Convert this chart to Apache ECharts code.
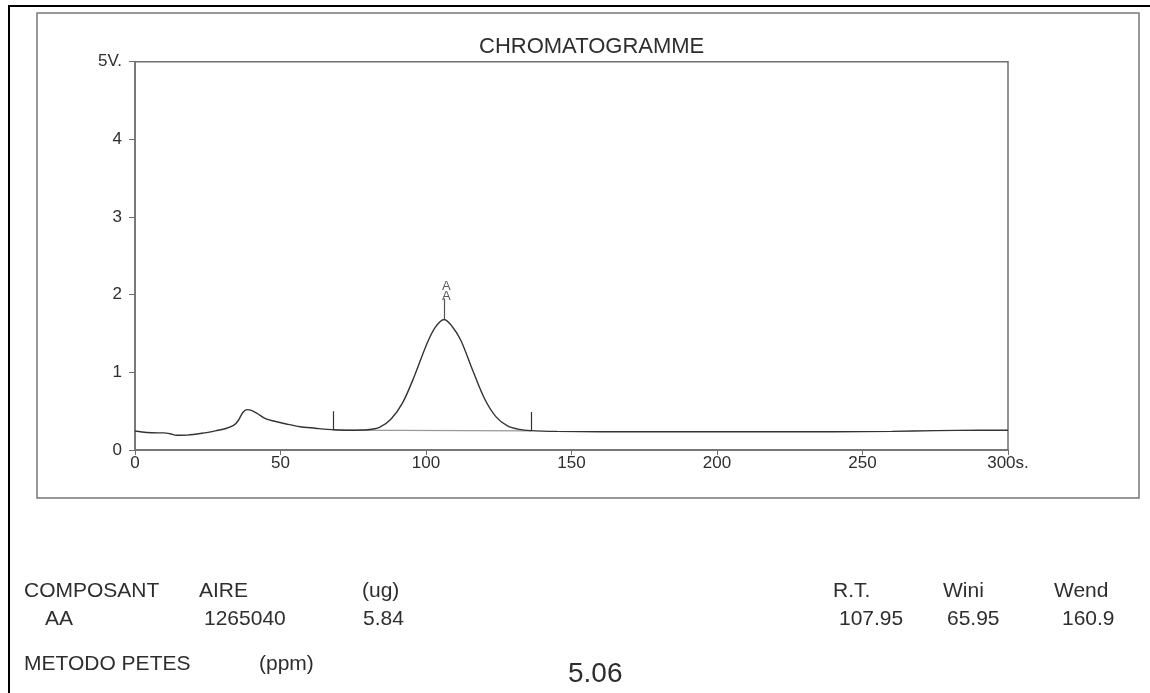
<!DOCTYPE html>
<html>
<head>
<meta charset="utf-8">
<script src="https://cdn.jsdelivr.net/npm/echarts@6/dist/echarts.min.js"></script>
<style>
html,body{margin:0;padding:0;background:#fff;}
#chart{width:1150px;height:693px;}
</style>
</head>
<body>
<div id="chart"></div>
<script>
// Chromatogram signal (time in s, signal in V)
const signal = [
  [0,0.245],[4,0.225],[8,0.22],[10,0.22],[12,0.21],[14.3,0.19],[18,0.192],[23,0.215],
  [28,0.25],[31.5,0.28],[34,0.32],[35.5,0.38],[37,0.48],[38.5,0.52],[40,0.51],[42,0.47],
  [45,0.4],[48,0.37],[52,0.335],[56.7,0.30],[62,0.28],[66,0.265],[70,0.258],[75,0.255],
  [80,0.26],[84,0.29],[88,0.40],[92,0.61],[96,0.95],[100,1.34],[103,1.57],[106.3,1.68],
  [109,1.59],[112,1.41],[116,1.03],[120,0.67],[124,0.43],[128,0.31],[132,0.265],[136,0.25],
  [145,0.24],[160,0.235],[180,0.235],[200,0.235],[220,0.235],[240,0.235],[260,0.24],
  [275,0.25],[290,0.255],[300,0.255]
];
// Integration baseline
const baseline = [[68,0.255],[136.3,0.245]];
// Integration window markers [time, low, high]
const windowMarks = [[68,0.26,0.5],[136.3,0.245,0.49]];
// Peak marker [time, top of peak, top of tick, label]
const peakMark = [106.3,1.68,1.95,'A\nA'];
const xTicks = {0:'0',50:'50',100:'100',150:'150',200:'200',250:'250',300:'300s.'};
const yTicks = {0:'0',1:'1',2:'2',3:'3',4:'4',5:'5V.'};
const titleText = 'CHROMATOGRAMME';
const tableHeader = ['COMPOSANT','AIRE','(ug)','R.T.','Wini','Wend'];
const tableRow = ['AA','1265040','5.84','107.95','65.95','160.9'];
const methodRow = ['METODO PETES','(ppm)','5.06'];

const FONT = '"Liberation Sans", Arial, sans-serif';
const TXT = '#2e2e2e';
const AX = '#6f6f6f';

const chart = echarts.init(document.getElementById('chart'));

function txt(x, y, s, size) {
  return {type:'text', x:x, y:y, style:{text:s, fill:TXT, font: size + 'px ' + FONT, verticalAlign:'middle', align:'left'}};
}

const headerX = [24,199,362,833,943,1054];
const rowX = [45,204,363,839,947,1062];
const graphics = [
  {type:'rect', shape:{x:9,y:6,width:1160,height:710}, style:{fill:'none', stroke:'#000', lineWidth:2}},
  {type:'rect', shape:{x:37,y:13,width:1102,height:485}, style:{fill:'none', stroke:'#777', lineWidth:1.5}}
];
tableHeader.forEach((s,i)=>graphics.push(txt(headerX[i],591,s,21)));
tableRow.forEach((s,i)=>graphics.push(txt(rowX[i],619,s,21)));
graphics.push(txt(24,664,methodRow[0],21));
graphics.push(txt(259,664,methodRow[1],21));
graphics.push(txt(568,674,methodRow[2],28));

chart.setOption({
  animation:false,
  backgroundColor:'#fff',
  title:{text:titleText, left:474, top:31, textStyle:{fontFamily:FONT, fontSize:22, fontWeight:'normal', color:TXT}},
  grid:{left:135, right:142, top:61.7, bottom:243, show:true, borderColor:AX, borderWidth:1.5, backgroundColor:'transparent'},
  xAxis:{type:'value', min:0, max:300, interval:50,
    axisLine:{show:true, lineStyle:{color:AX, width:1.5}},
    axisTick:{show:true, length:5, lineStyle:{color:AX}},
    splitLine:{show:false},
    axisLabel:{margin:5, color:TXT, fontFamily:FONT, fontSize:17, formatter:v=>xTicks[v]}},
  yAxis:{type:'value', min:0, max:5, interval:1,
    axisLine:{show:true, lineStyle:{color:AX, width:1.5}},
    axisTick:{show:true, length:6, lineStyle:{color:AX}},
    splitLine:{show:false},
    axisLabel:{margin:13, color:TXT, fontFamily:FONT, fontSize:17, formatter:v=>yTicks[v]}},
  graphic:graphics,
  series:[
    {type:'line', data:baseline, symbol:'none', lineStyle:{color:'#999', width:1.2}, z:2},
    {type:'line', data:signal, symbol:'none', smooth:0.3, lineStyle:{color:'#333', width:1.4}, z:3},
    {type:'lines', coordinateSystem:'cartesian2d',
      data:windowMarks.map(m=>({coords:[[m[0],m[1]],[m[0],m[2]]]})),
      lineStyle:{color:'#333', width:1.2, opacity:1}, z:4},
    {type:'lines', coordinateSystem:'cartesian2d',
      data:[{coords:[[peakMark[0],peakMark[1]],[peakMark[0],peakMark[2]]]}],
      lineStyle:{color:'#555', width:1.2, opacity:1}, z:4},
    {type:'scatter', data:[[peakMark[0],peakMark[2]]], symbolSize:0,
      label:{show:true, position:'top', distance:-2, offset:[2,1], formatter:peakMark[3], color:TXT, fontFamily:FONT, fontSize:13, lineHeight:10}, z:5}
  ]
});
</script>
</body>
</html>
